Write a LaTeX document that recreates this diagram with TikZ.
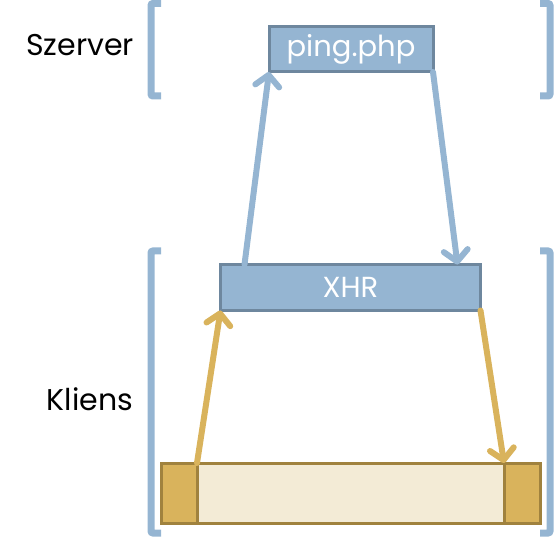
\documentclass[tikz,border=0pt]{standalone}
\usepackage{fontspec}
\setmainfont{Poppins}
\usetikzlibrary{arrows.meta,positioning}
\definecolor{srvCol}{RGB}{149,181,210}
\definecolor{srvEdge}{RGB}{110,135,158}
\definecolor{cliCol}{RGB}{217,179,92}
\definecolor{cliEdge}{RGB}{160,130,62}
\definecolor{cliLight}{RGB}{243,235,214}
\tikzset{
  brak/.style={draw=srvCol,line width=7pt,rounded corners=2pt},
  srvbox/.style={draw=srvEdge,fill=srvCol,line width=3pt,outer sep=0pt,
                 text=white,font=\fontsize{29}{32}\selectfont},
  clibox/.style={draw=cliEdge,fill=cliCol,line width=3pt,outer sep=0pt,
                 minimum width=36pt,minimum height=60pt},
  req/.style={-{Straight Barb[round,length=11pt,width=24pt]},line width=6pt,
              line cap=round,draw=srvCol},
  ans/.style={req,draw=cliCol},
  lab/.style={font=\fontsize{30}{34}\selectfont,text=black},
}
\begin{document}
\begin{tikzpicture}[x=1pt,y=-1pt]
      \useasboundingbox (0,0) rectangle (554,537);
      % brackets
      \draw[brak] (161,3.5) -- (151,3.5) -- (151,96) -- (161,96);
      \draw[brak] (540,3.5) -- (550,3.5) -- (550,96) -- (540,96);
      \draw[brak] (161,251) -- (151,251) -- (151,533) -- (161,533);
      \draw[brak] (540,251) -- (550,251) -- (550,533) -- (540,533);
      \node[lab] (szerver) at (80,45) {Szerver};
      \node[lab] (kliens) at (90,399) {Kliens};
      % boxes
      \node[srvbox,minimum width=164pt,minimum height=45pt] (ping) at (351,49.5) {ping.php};
      \node[srvbox,minimum width=260pt,minimum height=46pt] (xhr) at (350.5,287.5) {XHR};
      \node[clibox,fill=cliLight,minimum width=307pt] (bar) at (350.5,493) {};
      \node[clibox] (left) at (179,493) {};
      \node[clibox] (right) at (522,493) {};
      % requests
      \draw[req] ([xshift=24pt]xhr.north west) -- (ping.south west);
      \draw[req] (ping.south east) -- ([xshift=-23pt]xhr.north east);
      \draw[ans] (left.north east) -- (xhr.south west);
      \draw[ans] (xhr.south east) -- (right.north west);
    \end{tikzpicture}
\end{document}
